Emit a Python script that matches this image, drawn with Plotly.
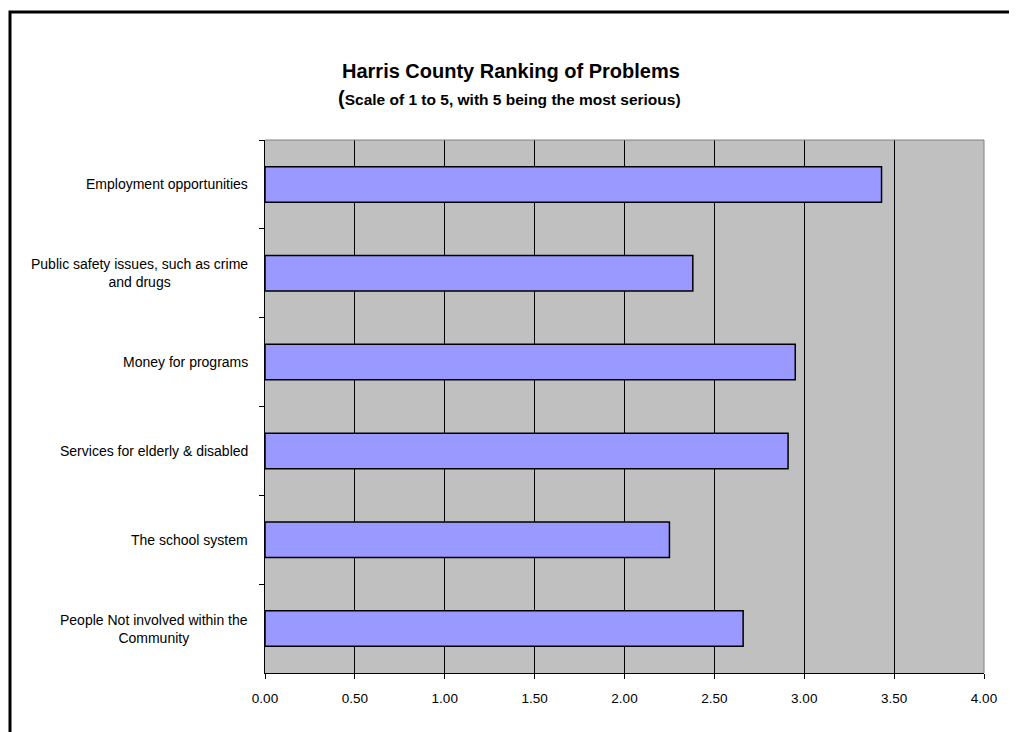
import plotly.graph_objects as go

categories = [
    "Employment opportunities",
    "Public safety issues, such as crime<br>and drugs",
    "Money for programs",
    "Services for elderly & disabled",
    "The school system",
    "People Not involved within the<br>Community",
]
values = [3.43, 2.38, 2.95, 2.91, 2.25, 2.66]
x_ticks = [0, 0.5, 1.0, 1.5, 2.0, 2.5, 3.0, 3.5, 4.0]
title = "Harris County Ranking of Problems"
subtitle = "Scale of 1 to 5, with 5 being the most serious)"

OFF = 8  # browser body margin
W, H = 1017 - OFF, 732 - OFF
L, R, T, B = 265 - OFF, 984 - OFF, 140 - OFF, 673 - OFF
pw, ph = R - L, B - T

def px(x):
    return (x - OFF - L) / pw

def py(y):
    return (B - (y - OFF)) / ph

fig = go.Figure()
fig.add_trace(go.Bar(
    x=values, y=categories, orientation="h",
    marker=dict(color="#9999FF", line=dict(color="#000000", width=1.5)),
    width=0.4, hoverinfo="x+y",
))

fig.update_layout(
    width=W, height=H,
    margin=dict(l=L, r=W - R, t=T, b=H - B, pad=0),
    paper_bgcolor="white", plot_bgcolor="#C0C0C0",
    showlegend=False,
    font=dict(family="Arial, Liberation Sans, sans-serif", size=13, color="black"),
)
fig.update_xaxes(
    range=[0, 4], tickvals=x_ticks, tickformat=".2f",
    showgrid=True, gridcolor="black", gridwidth=1,
    showline=True, linecolor="black", linewidth=1,
    ticks="outside", ticklen=5, tickcolor="black", tickwidth=1,
    ticklabelstandoff=8, zeroline=False,
    tickfont=dict(size=13.5, color="black"),
    fixedrange=True,
)
fig.update_yaxes(
    categoryorder="array", categoryarray=categories, autorange="reversed",
    showticklabels=False, tickson="boundaries",
    ticks="outside", ticklen=5, tickcolor="black", tickwidth=1,
    showline=True, linecolor="black", linewidth=1,
    showgrid=False, zeroline=False, fixedrange=True,
)

# top and right border of plot area (gray)
fig.add_shape(type="path", xref="paper", yref="paper",
              path="M 0,1 L 1,1 L 1,0", line=dict(color="#808080", width=1),
              layer="above")

# outer chart frame
fig.add_shape(type="rect", xref="paper", yref="paper",
              x0=px(10), x1=px(1012), y0=py(780), y1=py(12),
              line=dict(color="black", width=3), layer="above")

# category labels (centered lines, right-aligned block)
for c in categories:
    fig.add_annotation(x=0, xref="paper", y=c, yref="y", text=c,
                       xanchor="right", yanchor="middle", align="center",
                       xshift=-15, showarrow=False,
                       font=dict(size=14, color="black"))

fig.add_annotation(x=px(511), y=py(71), xref="paper", yref="paper",
                   text="<b>" + title + "</b>", showarrow=False,
                   xanchor="center", yanchor="middle",
                   font=dict(size=20, color="black"))
fig.add_annotation(x=px(509), y=py(98), xref="paper", yref="paper",
                   text="<b><span style='font-size:20px'>(</span>" + subtitle + "</b>",
                   showarrow=False, xanchor="center", yanchor="middle",
                   font=dict(size=15.5, color="black"))

fig.write_html("out.html")
